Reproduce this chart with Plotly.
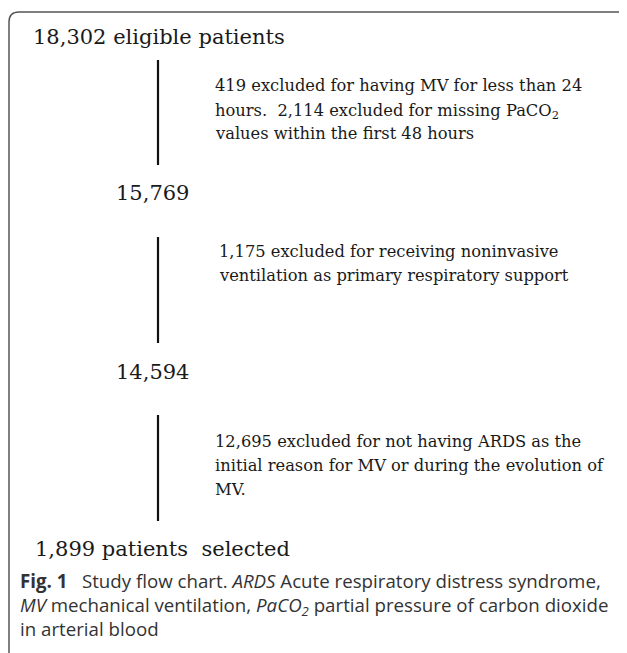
import plotly.graph_objects as go

# ---- data ----
stage_counts = [18302, 15769, 14594, 1899]
stage_suffix = [" eligible patients", "", "", " patients\u00a0 selected"]
excluded_counts = [[419, 2114], [1175], [12695]]
exclusion_lines = [
    ["{0} excluded for having MV for less than 24",
     "hours.\u00a0 {1} excluded for missing PaCO<sub>2</sub>",
     "values within the first 48 hours"],
    ["{0} excluded for receiving noninvasive",
     "ventilation as primary respiratory support"],
    ["{0} excluded for not having ARDS as the",
     "initial reason for MV or during the evolution of",
     "MV."],
]
caption_lines = [
    "<b>Fig. 1</b>\u00a0\u00a0 Study flow chart. <i>ARDS</i> Acute respiratory distress syndrome,",
    "<i>MV</i> mechanical ventilation, <i>PaCO<sub>2</sub></i> partial pressure of carbon dioxide",
    "in arterial blood",
]

W, H = 627, 653
OFF = 8  # default page body margin
fig = go.Figure()
fig.update_layout(
    width=W - OFF, height=H - OFF, margin=dict(l=0, r=0, t=0, b=0),
    paper_bgcolor="white", plot_bgcolor="white", showlegend=False,
    xaxis=dict(range=[OFF, W], visible=False, fixedrange=True),
    yaxis=dict(range=[H, OFF], visible=False, fixedrange=True),
)

serif = "DejaVu Serif, Liberation Serif, serif"
sans = "Open Sans, Noto Sans, sans-serif"
ink = "#1a1a1a"

# stage labels
stage_pos = [(31, 37), (114, 193), (114, 372), (33, 549)]
for cnt, suf, (x, y) in zip(stage_counts, stage_suffix, stage_pos):
    fig.add_annotation(x=x, y=y, text=f"{cnt:,}{suf}", showarrow=False,
                       xanchor="left", yanchor="middle",
                       font=dict(family=serif, size=21, color=ink))

# connector lines
line_spans = [(60, 165), (237, 343), (415, 521)]
for (y0, y1) in line_spans:
    fig.add_shape(type="line", x0=158, x1=158, y0=y0, y1=y1,
                  line=dict(color="#111", width=2.2))

# exclusion text blocks (one annotation per printed line)
excl_x = [213, 217, 213]
excl_y0 = [85, 251, 441]
step = 24
for cnts, lines, x, y0 in zip(excluded_counts, exclusion_lines, excl_x, excl_y0):
    vals = [f"{c:,}" for c in cnts]
    for i, ln in enumerate(lines):
        dy = 2 if "<sub>" in ln else 0
        fig.add_annotation(x=x, y=y0 + i * step + dy, text=ln.format(*vals),
                           showarrow=False, xanchor="left", yanchor="middle", align="left",
                           font=dict(family=serif, size=16.3, color=ink))

# caption
for i, ln in enumerate(caption_lines):
    dy = 2 if "<sub>" in ln else 0
    fig.add_annotation(x=18, y=580 + i * step + dy, text=ln, showarrow=False,
                       xanchor="left", yanchor="middle", align="left",
                       font=dict(family=sans, size=18.7, color="#333"))

# frame border
fig.add_shape(type="path", path="M 9,653 L 9,22 Q 9,12 19,12 L 621,12 Q 625,12 625,15",
              line=dict(color="#555", width=1.5))

fig.write_html("out.html")
